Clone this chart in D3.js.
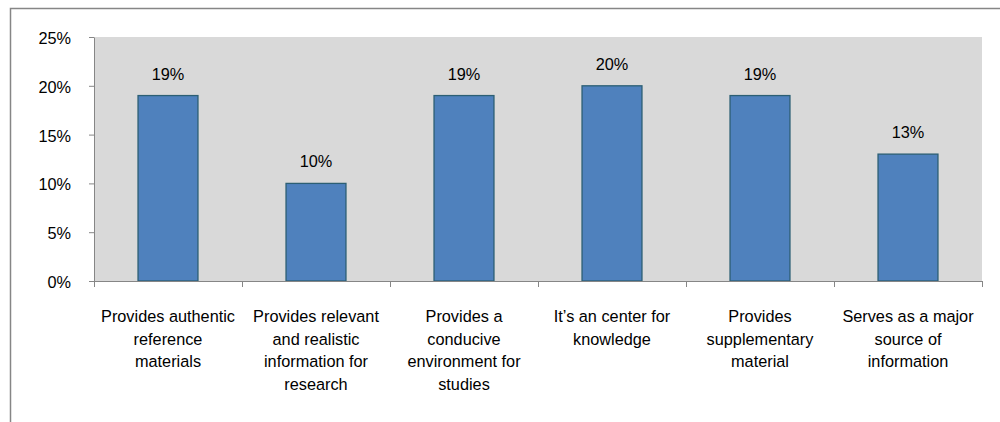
<!DOCTYPE html>
<html>
<head>
<meta charset="utf-8">
<script src="https://cdn.jsdelivr.net/npm/d3@7"></script>
<style>
  body { margin: 0; background: #fff; }
  svg text { font-family: "Liberation Sans", Arial, sans-serif; fill: #000; }
</style>
</head>
<body>
<div id="chart"></div>
<script>
// categories (already broken into lines as in the picture)
var categories = [
  ["Provides authentic", "reference", "materials"],
  ["Provides relevant", "and realistic", "information for", "research"],
  ["Provides a", "conducive", "environment for", "studies"],
  ["It\u2019s an center for", "knowledge"],
  ["Provides", "supplementary", "material"],
  ["Serves as a major", "source of", "information"]
]
var values = [19, 10, 19, 20, 19, 13]
var yTicks = [0, 5, 10, 15, 20, 25]

var W = 1000, H = 422
var margin = {top: 37, right: 18, bottom: 141, left: 94},
    width = W - margin.left - margin.right,
    height = H - margin.top - margin.bottom;

var fs = "16.3px"

var svg = d3.select("#chart")
  .append("svg")
    .attr("width", W)
    .attr("height", H)

// outer chart frame (only top and left edges show)
svg.append("rect")
    .attr("x", 10.5)
    .attr("y", 8.5)
    .attr("width", 1100)
    .attr("height", 600)
    .attr("fill", "none")
    .attr("stroke", "#868686")
    .attr("stroke-width", 1.5)

var g = svg.append("g")
    .attr("transform", "translate(" + margin.left + "," + margin.top + ")")

// plot area
g.append("rect")
    .attr("width", width)
    .attr("height", height)
    .attr("fill", "#d9d9d9")

var idx = d3.range(categories.length)

var x = d3.scaleBand()
    .domain(idx)
    .range([0, width])
    .paddingInner(0.595)
    .paddingOuter(0.2975)

var y = d3.scaleLinear()
    .domain([0, 25])
    .range([height, 0])

// bars
g.selectAll(".bar")
  .data(values)
  .enter()
  .append("rect")
    .attr("class", "bar")
    .attr("x", function(d, i){ return x(i) })
    .attr("y", function(d){ return y(d) })
    .attr("width", x.bandwidth())
    .attr("height", function(d){ return y(0) - y(d) })
    .attr("fill", "#4f81bd")
    .attr("stroke", "#2c5f74")
    .attr("stroke-width", 1.3)

// value labels
g.selectAll(".lbl")
  .data(values)
  .enter()
  .append("text")
    .attr("class", "lbl")
    .attr("text-anchor", "middle")
    .attr("x", function(d, i){ return x(i) + x.bandwidth() / 2 })
    .attr("y", function(d){ return y(d) - 16 })
    .style("font-size", fs)
    .text(function(d){ return d + "%" })

// y axis
var yAxis = g.append("g")
  .call(d3.axisLeft(y)
    .tickValues(yTicks)
    .tickSize(5)
    .tickSizeOuter(0)
    .tickPadding(18)
    .tickFormat(function(d){ return d + "%" }))
yAxis.selectAll("text").style("font-size", fs).attr("dy", "0.4em")
yAxis.selectAll("line, path").attr("stroke", "#868686")

// x axis: tick marks at category boundaries
var xb = d3.scaleLinear().domain([0, categories.length]).range([0, width])
var xAxis = g.append("g")
    .attr("transform", "translate(0," + height + ")")
  .call(d3.axisBottom(xb)
    .tickValues(d3.range(categories.length + 1))
    .tickSize(6)
    .tickSizeOuter(0)
    .tickFormat(""))
xAxis.selectAll("line, path").attr("stroke", "#868686")

// category labels
var cat = g.selectAll(".cat")
  .data(categories)
  .enter()
  .append("text")
    .attr("class", "cat")
    .attr("text-anchor", "middle")
    .attr("transform", function(d, i){
      return "translate(" + (x(i) + x.bandwidth() / 2) + "," + (height + 41) + ")" })
    .style("font-size", fs)

cat.selectAll("tspan")
  .data(function(d){ return d })
  .enter()
  .append("tspan")
    .attr("x", 0)
    .attr("y", function(d, i){ return i * 22.7 })
    .text(function(d){ return d })
</script>
</body>
</html>
